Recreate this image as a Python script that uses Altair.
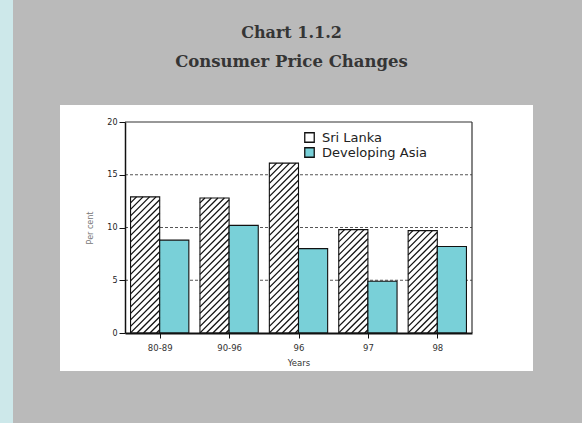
import altair as alt
import pandas as pd

# ---- data -------------------------------------------------------------
title_lines = ["Chart 1.1.2", "Consumer Price Changes"]
years = ["80-89", "90-96", "96", "97", "98"]
sri_lanka = [12.9, 12.8, 16.1, 9.8, 9.7]
developing_asia = [8.8, 10.2, 8.0, 4.9, 8.2]
series_names = ["Sri Lanka", "Developing Asia"]
y_ticks = [0, 5, 10, 15, 20]
grid_levels = [5, 10, 15]

# ---- geometry of the plot area ---------------------------------------
W, H = 347, 211
X_MAX, Y_MAX = len(years), 20
BAR_W = 0.42          # bar width in category units
PX_X = W / X_MAX
PX_Y = H / Y_MAX

rows = []
for i, yr in enumerate(years):
    c = i + 0.5
    rows.append(dict(year=yr, series=series_names[0], x0=c - BAR_W, x1=c, value=sri_lanka[i]))
    rows.append(dict(year=yr, series=series_names[1], x0=c, x1=c + BAR_W, value=developing_asia[i]))
bars = pd.DataFrame(rows)

# diagonal hatching for the Sri Lanka bars, clipped to each bar
STEP = 6.5
segs = []
for r in rows:
    if r["series"] != series_names[0]:
        continue
    w = (r["x1"] - r["x0"]) * PX_X
    h = r["value"] * PX_Y
    k = -w + STEP / 2
    while k < h:
        xs = max(0.0, -k)
        xe = min(w, h - k)
        if xe > xs:
            segs.append(dict(hx=r["x0"] + xs / PX_X, hy=(xs + k) / PX_Y,
                             hx2=r["x0"] + xe / PX_X, hy2=(xe + k) / PX_Y))
        k += STEP
hatch = pd.DataFrame(segs)

label_expr = "[" + ",".join("'%s'" % y for y in years) + "][floor(datum.value)]"

x_scale = alt.Scale(domain=[0, X_MAX], nice=False, zero=False)
y_scale = alt.Scale(domain=[0, Y_MAX], nice=False)
one = alt.Data(values=[{}])

# ---- decoration: white panel and scan strip --------------------------
panel = alt.Chart(one).mark_rect(fill="white", clip=False).encode(
    x=alt.value(-65), x2=alt.value(408), y=alt.value(-17), y2=alt.value(249)
)
strip = alt.Chart(one).mark_rect(fill="#cde8ea", clip=False).encode(
    x=alt.value(-125), x2=alt.value(-112), y=alt.value(-122), y2=alt.value(301)
)

# ---- two-line heading -------------------------------------------------
heading = [
    alt.Chart(alt.Data(values=[{"t": line}])).mark_text(
        font="DejaVu Serif", fontSize=fs, fontWeight="bold", color="#353535",
        align="center", baseline="alphabetic", clip=False
    ).encode(text="t:N", x=alt.value(W / 2 - 7), y=alt.value(yv))
    for line, yv, fs in zip(title_lines, [-84, -55], [16, 16.5])
]

grid = alt.Chart(pd.DataFrame({"g": grid_levels})).mark_rule(
    color="#555555", strokeDash=[3, 2], strokeWidth=1
).encode(
    y=alt.Y("g:Q", scale=y_scale),
    x=alt.value(0), x2=alt.value(W)
)

bar_layer = alt.Chart(bars).mark_rect(stroke="#111111", strokeWidth=1.1).encode(
    x=alt.X("x0:Q", scale=x_scale, axis=alt.Axis(
        values=[i + 0.5 for i in range(len(years))], labelExpr=label_expr,
        title="Years", grid=False, zindex=1,
        domainColor="#111111", domainWidth=2, tickColor="#111111", tickSize=5,
        labelFont="DejaVu Sans", labelFontSize=8.5, labelColor="#333333", labelPadding=5,
        titleFont="DejaVu Sans", titleFontSize=8.5, titleFontWeight="normal",
        titleColor="#333333", titlePadding=7)),
    x2="x1:Q",
    y=alt.Y("value:Q", scale=y_scale, axis=alt.Axis(
        values=y_ticks, title="Per cent", grid=False, zindex=1,
        domainColor="#111111", domainWidth=1.5, tickColor="#111111", tickSize=6,
        labelFont="DejaVu Sans", labelFontSize=8, labelColor="#222222", labelPadding=2,
        titleFont="DejaVu Sans", titleFontSize=8, titleFontWeight="normal",
        titleColor="#777777", titlePadding=12)),
    y2=alt.datum(0),
    fill=alt.Fill("series:N", scale=alt.Scale(domain=series_names, range=["white", "#79d0d8"]),
                  legend=alt.Legend(title=None, orient="none", legendX=178, legendY=9,
                                    symbolType="square", symbolSize=90,
                                    symbolStrokeColor="#111111", symbolStrokeWidth=1.3,
                                    labelFont="DejaVu Sans", labelFontSize=13,
                                    labelColor="#222222", rowPadding=0, padding=0,
                                    labelOffset=6, zindex=1)),
)

hatch_layer = alt.Chart(hatch).mark_rule(color="#111111", strokeWidth=1.3).encode(
    x=alt.X("hx:Q", scale=x_scale), x2="hx2:Q",
    y=alt.Y("hy:Q", scale=y_scale), y2="hy2:Q",
)

frame_top = alt.Chart(one).mark_rule(color="#333333", strokeWidth=1.2).encode(
    x=alt.value(0), x2=alt.value(W), y=alt.value(0)
)
frame_right = alt.Chart(one).mark_rule(color="#333333", strokeWidth=1.2).encode(
    x=alt.value(W), y=alt.value(0), y2=alt.value(H)
)

chart = alt.layer(
    strip, panel, *heading, grid, bar_layer, hatch_layer, frame_top, frame_right
).properties(
    width=W, height=H,
    autosize=alt.AutoSizeParams(type="none"),
    padding={"left": 125, "top": 122, "right": 110, "bottom": 90},
    background="#bababa",
).configure_view(stroke=None)

chart.save("out.html", embed_options={"renderer": "svg", "actions": False})
